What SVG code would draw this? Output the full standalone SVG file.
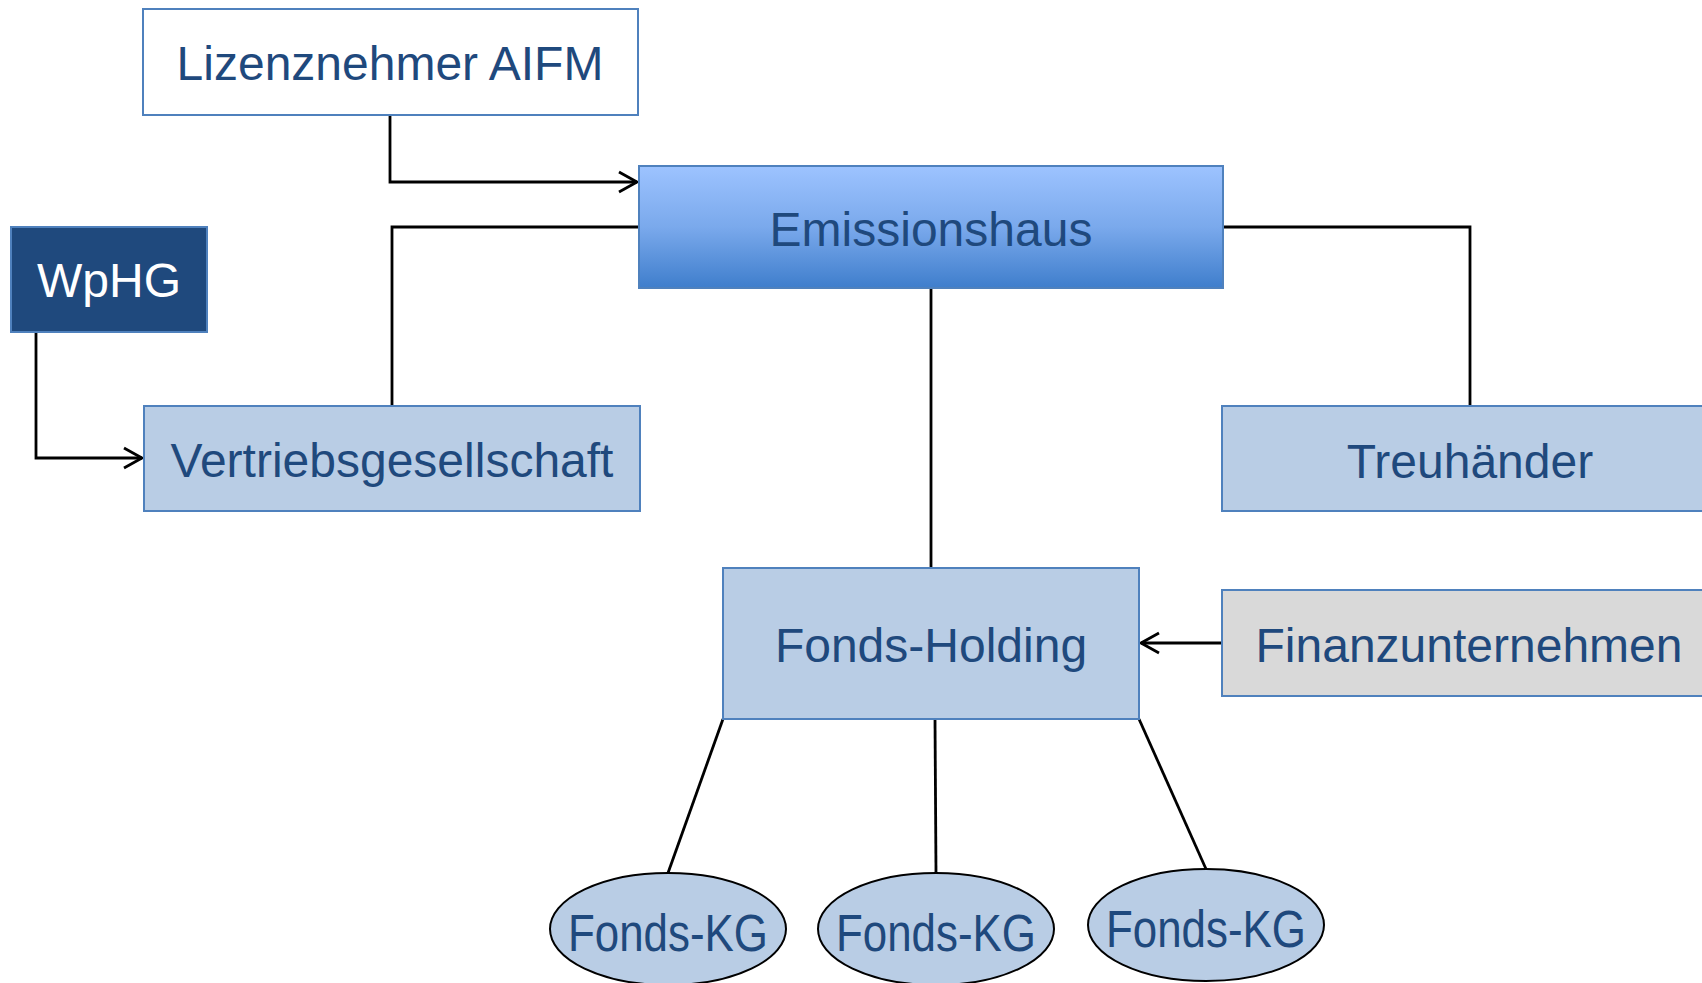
<svg xmlns="http://www.w3.org/2000/svg" width="1702" height="983" viewBox="0 0 1702 983">
  <style>
    .box { stroke: #4F81BD; stroke-width: 2; }
    .light { fill: #B9CDE5; }
    .label { font-family: "Liberation Sans", Arial, sans-serif; font-size: 48px; fill: #1F497D; text-anchor: middle; }
    .kg { font-family: "Liberation Sans", Arial, sans-serif; font-size: 51px; fill: #1F497D; text-anchor: middle; }
    .wire { fill: none; stroke: #000; stroke-width: 2.8; }
    .oval { fill: #B9CDE5; stroke: #000; stroke-width: 2; }
  </style>
  <defs>
    <linearGradient id="emiGrad" x1="0" y1="0" x2="0" y2="1">
      <stop offset="0" stop-color="#9DC3FF"/>
      <stop offset="0.5" stop-color="#7AA9EC"/>
      <stop offset="1" stop-color="#3F7ECC"/>
    </linearGradient>
    <marker id="open" markerUnits="userSpaceOnUse" markerWidth="26" markerHeight="26" refX="21" refY="12" orient="auto">
      <path d="M3,2 L21,12 L3,22" fill="none" stroke="#000" stroke-width="2.8"/>
    </marker>
  </defs>

  <rect width="1702" height="983" fill="#FFFFFF"/>

  <!-- connectors -->
  <g id="connectors">
    <path class="wire" d="M390,115 V182 H637" marker-end="url(#open)"/>
    <path class="wire" d="M639,227 H392 V406"/>
    <path class="wire" d="M36,332 V458 H142" marker-end="url(#open)"/>
    <path class="wire" d="M1223,227 H1470 V406"/>
    <path class="wire" d="M931,288 V568"/>
    <path class="wire" d="M1222,643 H1141" marker-end="url(#open)"/>
    <path class="wire" d="M723,719 L668,873"/>
    <path class="wire" d="M935,719 L936,873"/>
    <path class="wire" d="M1139,719 L1206,869"/>
  </g>

  <g id="lizenznehmer">
    <rect class="box" x="143" y="9" width="495" height="106" fill="#FFFFFF"/>
    <text class="label" x="390" y="80">Lizenznehmer AIFM</text>
  </g>

  <g id="emissionshaus">
    <rect class="box" x="639" y="166" width="584" height="122" fill="url(#emiGrad)"/>
    <text class="label" x="931" y="246">Emissionshaus</text>
  </g>

  <g id="wphg">
    <rect class="box" x="11" y="227" width="196" height="105" fill="#1F497D"/>
    <text class="label" x="109" y="297" style="fill:#FFFFFF">WpHG</text>
  </g>

  <g id="vertriebsgesellschaft">
    <rect class="box light" x="144" y="406" width="496" height="105"/>
    <text class="label" x="392" y="477">Vertriebsgesellschaft</text>
  </g>

  <g id="treuhaender">
    <rect class="box light" x="1222" y="406" width="496" height="105"/>
    <text class="label" x="1470" y="478">Treuhänder</text>
  </g>

  <g id="fonds-holding">
    <rect class="box light" x="723" y="568" width="416" height="151"/>
    <text class="label" x="931" y="662">Fonds-Holding</text>
  </g>

  <g id="finanzunternehmen">
    <rect class="box" x="1222" y="590" width="496" height="106" fill="#D9D9D9"/>
    <text class="label" x="1469" y="662">Finanzunternehmen</text>
  </g>

  <g id="fonds-kg-1">
    <ellipse class="oval" cx="668" cy="929" rx="118" ry="56"/>
    <text class="kg" x="668" y="951" textLength="200" lengthAdjust="spacingAndGlyphs">Fonds-KG</text>
  </g>

  <g id="fonds-kg-2">
    <ellipse class="oval" cx="936" cy="929" rx="118" ry="56"/>
    <text class="kg" x="936" y="951" textLength="200" lengthAdjust="spacingAndGlyphs">Fonds-KG</text>
  </g>

  <g id="fonds-kg-3">
    <ellipse class="oval" cx="1206" cy="925" rx="118" ry="56"/>
    <text class="kg" x="1206" y="947" textLength="200" lengthAdjust="spacingAndGlyphs">Fonds-KG</text>
  </g>
</svg>
